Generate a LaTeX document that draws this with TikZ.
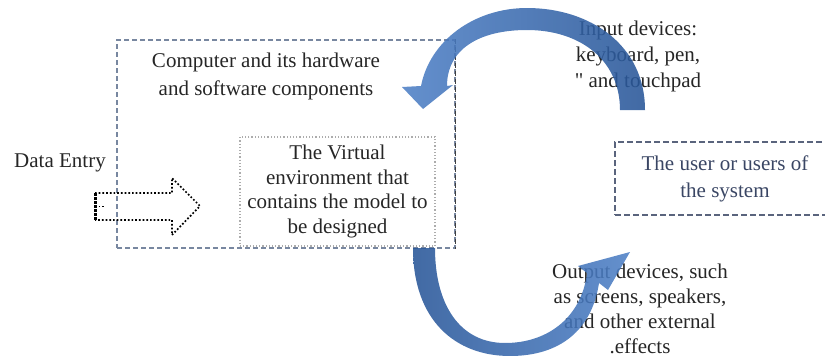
\documentclass[tikz,border=0pt]{standalone}
\usepackage{fontspec}
\setmainfont{Liberation Serif}
\usetikzlibrary{positioning}
\definecolor{boxline}{RGB}{120,135,160}
\definecolor{userline}{RGB}{90,100,125}
\definecolor{usertxt}{RGB}{58,70,100}
\definecolor{arrowlight}{RGB}{78,128,198}
\definecolor{arrowdark}{RGB}{40,86,152}
\colorlet{txt}{black!85}
\tikzset{words/.style={text=txt,align=center,inner sep=0pt,
    font=\fontsize{21}{26}\selectfont}}
\tikzset{hwbox/.style={draw=boxline,dash pattern=on 5pt off 3pt,line width=1.1pt}}
\tikzset{hwedge/.style={draw=black!75,dash pattern=on 5pt off 3pt,line width=1.8pt}}
\tikzset{vebox/.style={draw=gray!65,dotted,line width=1.2pt}}
\tikzset{userbox/.style={draw=userline,dash pattern=on 6pt off 3pt,line width=1.4pt}}
\tikzset{entryarrow/.style={draw=black,dotted,line width=1.7pt}}
\tikzset{bigarrow/.style={fill opacity=0.88}}

\begin{document}
\begin{tikzpicture}[x=1pt,y=-1pt]
	    \useasboundingbox (0,0) rectangle (825,356);
	    % boxes
	    \node[hwbox,minimum width=338pt,minimum height=208pt] (computer) at (286,144) {};
	    \draw[hwedge] (computer.north east) -- (computer.south east);
	    \node[vebox,words,font=\fontsize{21}{24.5}\selectfont,minimum width=195pt,minimum height=109pt]
	        (virtual) at (337.5,191.5) {The Virtual\\environment that\\contains the model to\\be designed};
	    \node[userbox,words,text=usertxt,font=\fontsize{21}{27}\selectfont,minimum width=220pt,minimum height=73pt]
	        (user) at (725,178.5) {The user or users of\\the system};
	    % texts
	    \node[words,font=\fontsize{21}{28}\selectfont] (hwtext) at (266,76) {Computer and its hardware\\and software components};
	    \node[words] (entry) at (60,163) {Data Entry};
	    \node[words] (input) at (638,56) {Input devices:\\keyboard, pen,\\\textquotedbl{} and touchpad};
	    \node[words,font=\fontsize{21}{25}\selectfont] (output) at (640,308.5) {Output devices, such\\as screens, speakers,\\and other external\\.effects};
	    % data entry arrow
	    \draw[entryarrow] (95,193) -- (172,193) -- (172,178) -- (200,206) -- (172,235) -- (172,220) -- (95,220);
	    \draw[line width=3pt,densely dotted] (95,193) -- (95,220);
	    \draw[line width=1.7pt,dotted] (95,206.5) -- (104,206.5);
	    % input arrow
	    \shade[bigarrow,left color=arrowlight,middle color=arrowlight!55!white,right color=arrowdark]
	        (645,110) .. controls (645,45) and (590,8) .. (527,8)
	        .. controls (475,8) and (430,40) .. (421,86) -- (402,87) -- (423,109) -- (453,85) -- (447,86)
	        .. controls (447,50) and (478,30) .. (527,30)
	        .. controls (580,30) and (620,60) .. (620,110) -- cycle;
	    % output arrow
	    \shade[bigarrow,left color=arrowdark,middle color=arrowlight!60!white,right color=arrowlight]
	        (413,248) .. controls (413,320) and (455,356) .. (510,356)
	        .. controls (560,356) and (592,330) .. (599,283) -- (608,290) -- (630,252) -- (578,266) -- (587,273)
	        .. controls (582,315) and (550,343) .. (505,343)
	        .. controls (460,343) and (435,305) .. (435,248) -- cycle;
        \end{tikzpicture}
\end{document}
